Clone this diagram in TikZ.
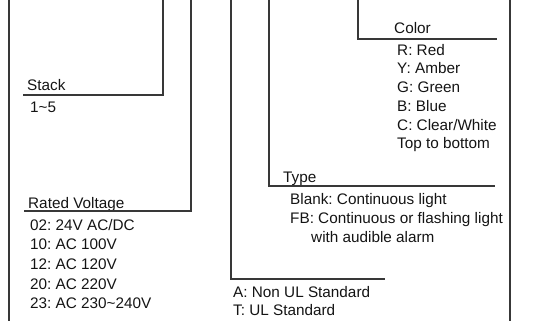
\documentclass[tikz,border=0pt]{standalone}
\usepackage{fontspec}
\setmainfont{Liberation Sans}
\usetikzlibrary{positioning}
\frenchspacing

\begin{document}
\begin{tikzpicture}[
    x=1pt, y=-1pt,
    lead/.style={draw=black!78, line width=1.2pt},
    head/.style={anchor=base west, inner sep=0pt, text=black!92,
                 font=\fontsize{15.3}{19}\selectfont},
    list/.style={anchor=north west, inner sep=0pt, align=left, text=black!92,
                 font=\fontsize{15.3}{#1}\selectfont},
    list/.default=19
]
  \useasboundingbox (0,0) rectangle (533,321);

  % frame sides
  \coordinate (ltop) at (9,0);
  \coordinate (lbot) at (9,321);
  \coordinate (rtop) at (510,0);
  \coordinate (rbot) at (510,321);
  \draw[lead] (ltop) -- (lbot);
  \draw[lead] (rtop) -- (rbot);

  % stack
  \node[head] (stack) at (27,91) {Stack};
  \node[list] (stacklist) at (30,101.5) {1\textasciitilde5};
  \coordinate (stacktop) at (163,0);
  \coordinate (stackend) at (23,95);
  \draw[lead] (stacktop) |- (stackend);

  % rated voltage
  \node[head] (volt) at (28,208) {Rated Voltage};
  \node[list=19.6] (voltlist) at (30,219) {02: 24V AC/DC\\10: AC 100V\\12: AC 120V\\
    20: AC 220V\\23: AC 230\textasciitilde240V};
  \coordinate (volttop) at (191,0);
  \coordinate (voltend) at (24,211);
  \draw[lead] (volttop) |- (voltend);

  % standard
  \node[list=18.3] (std) at (233,286) {A: Non UL Standard\\T: UL Standard};
  \coordinate (stdtop) at (231,0);
  \coordinate (stdend) at (385,279);
  \draw[lead] (stdtop) |- (stdend);

  % type
  \node[head] (type) at (283,182) {Type};
  \node[list] (typelist) at (290,193) {Blank: Continuous light\\
    FB: Continuous or flashing light\\\hspace*{21pt}with audible alarm};
  \coordinate (typetop) at (269,0);
  \coordinate (typeend) at (495,186);
  \draw[lead] (typetop) |- (typeend);

  % color
  \node[head] (color) at (394,34) {Color};
  \node[list=18.7] (colorlist) at (397,44) {R: Red\\Y: Amber\\G: Green\\B: Blue\\
    C: Clear/White\\Top to bottom};
  \coordinate (colortop) at (358,0);
  \coordinate (colorend) at (497,39);
  \draw[lead] (colortop) |- (colorend);
\end{tikzpicture}
\end{document}
